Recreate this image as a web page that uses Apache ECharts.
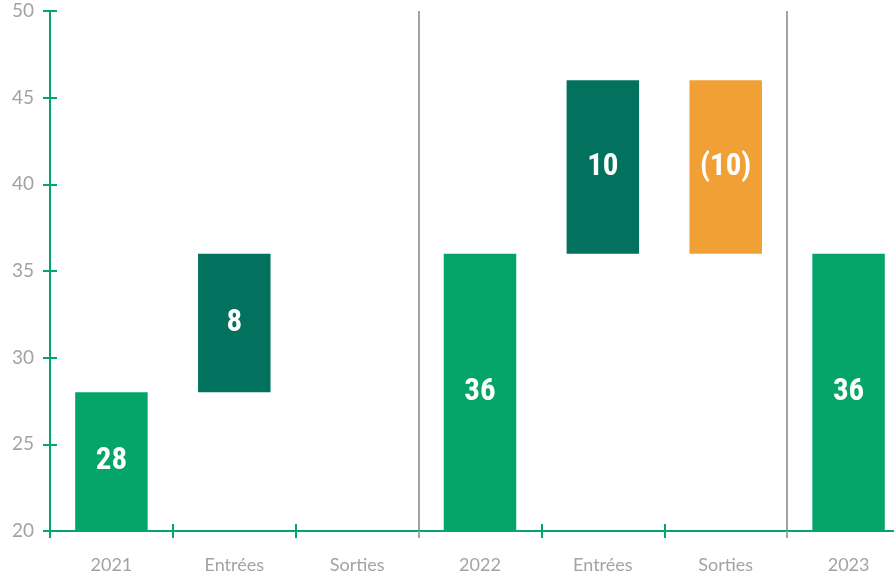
<!DOCTYPE html>
<html>
<head>
<meta charset="utf-8">
<script src="https://cdn.jsdelivr.net/npm/echarts@6/dist/echarts.min.js"></script>
<style>html,body{margin:0;padding:0;background:#fff;overflow:hidden}#c{width:910px;height:576px}</style>
</head>
<body>
<div id="c"></div>
<script>
const categories = ['2021', 'Entrées', 'Sorties', '2022', 'Entrées', 'Sorties', '2023'];
const totals   = [28, null, null, 36, null, null, 36];
const entrees  = [null, 8, null, null, 10, null, null];
const sorties  = [null, null, 0, null, null, 10, null];
const yTicks = [20, 25, 30, 35, 40, 45, 50];
const separatorIdx = [3, 6];

// running level for the floating bars
const base = [];
let level = 0;
for (let i = 0; i < categories.length; i++) {
  if (totals[i] != null) { level = totals[i]; base.push(0); }
  else if (entrees[i] != null) { base.push(level); level += entrees[i]; }
  else if (sorties[i] != null) { level -= sorties[i]; base.push(level); }
  else base.push(0);
}
const GREEN = '#05a56a', TEAL = '#02725e', ORANGE = '#f0a035', GRAY = '#a3a3a3';
const barLabel = (fmt) => ({
  show: true, position: 'inside', color: '#fff', fontSize: 31, fontWeight: 'bold',
  fontFamily: '"Roboto Condensed", Roboto, sans-serif',
  formatter: fmt
});
const chart = echarts.init(document.getElementById('c'));
chart.setOption({
  animation: false,
  grid: { left: 50, right: 0, top: 11, bottom: 45 },
  xAxis: [
    { type: 'category', data: categories, position: 'bottom',
      axisLine: { lineStyle: { color: GREEN, width: 2 } },
      axisTick: { show: true, length: 7, lineStyle: { color: GREEN, width: 2 },
        interval: (i) => !separatorIdx.includes(i) },
      axisLabel: { color: GRAY, fontSize: 18, margin: 25, fontFamily: 'Lato, "Open Sans", sans-serif' },
      splitLine: { show: false } },
    { type: 'category', data: categories, position: 'bottom',
      axisLine: { show: false },
      axisTick: { show: true, inside: true, length: 7, lineStyle: { color: GREEN, width: 2 },
        interval: (i) => i !== 0 && !separatorIdx.includes(i) },
      axisLabel: { show: false }, splitLine: { show: false } },
    { type: 'category', data: categories, position: 'bottom',
      axisLine: { show: false },
      axisTick: { show: true, length: 7, lineStyle: { color: GRAY, width: 2 },
        interval: (i) => separatorIdx.includes(i) },
      axisLabel: { show: false },
      splitLine: { show: true, lineStyle: { color: GRAY, width: 2 },
        interval: (i) => separatorIdx.includes(i) } }
  ],
  yAxis: [
    { type: 'value', min: yTicks[0], max: yTicks[yTicks.length - 1], interval: 5,
      axisLine: { show: true, lineStyle: { color: GREEN, width: 2 } },
      axisTick: { show: true, length: 7, lineStyle: { color: GREEN, width: 2 } },
      axisLabel: { color: GRAY, fontSize: 19, margin: 16, fontFamily: 'Lato, "Open Sans", sans-serif' },
      splitLine: { show: false } },
    { type: 'value', min: yTicks[0], max: yTicks[yTicks.length - 1], interval: 5, position: 'left',
      axisLine: { show: false },
      axisTick: { show: true, inside: true, length: 7, lineStyle: { color: GREEN, width: 2 } },
      axisLabel: { show: false }, splitLine: { show: false } }
  ],
  series: [
    { type: 'bar', stack: 'wf', data: base, barWidth: '59%', itemStyle: { color: 'transparent' },
      silent: true },
    { type: 'bar', stack: 'wf', data: totals, itemStyle: { color: GREEN },
      label: barLabel((p) => p.value) },
    { type: 'bar', stack: 'wf', data: entrees, itemStyle: { color: TEAL },
      label: barLabel((p) => p.value) },
    { type: 'bar', stack: 'wf', data: sorties, itemStyle: { color: ORANGE },
      label: barLabel((p) => p.value ? '(' + p.value + ')' : '') }
  ]
});
</script>
</body>
</html>
